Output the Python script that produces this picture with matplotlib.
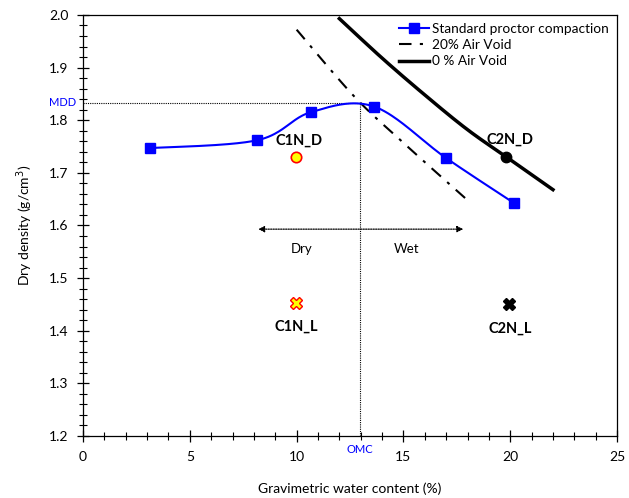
import numpy as np
import matplotlib.pyplot as plt
from matplotlib.ticker import MultipleLocator

plt.rcParams['font.family'] = ['Lato', 'DejaVu Sans']

# standard proctor compaction test
w_proctor = [3.15, 8.16, 10.65, 13.62, 17.0, 20.16]
rho_proctor = [1.747, 1.762, 1.815, 1.826, 1.728, 1.643]

# air void lines
w_av20 = [10.0, 12.7, 15.0, 18.0]
rho_av20 = [1.972, 1.845, 1.757, 1.648]
w_av0 = [12.0, 14.0, 16.0, 18.0, 20.0, 22.0]
rho_av0 = [1.993, 1.918, 1.848, 1.782, 1.725, 1.668]

# samples
c1n_d = (9.95, 1.731)
c2n_d = (19.82, 1.731)
c1n_l = (9.98, 1.452)
c2n_l = (19.95, 1.450)

omc = 12.97
mdd = 1.833


def smooth(xs, ys, n=40):
    # excel style smoothed line (catmull-rom bezier)
    p = np.column_stack([xs, ys]).astype(float)
    out = []
    for i in range(len(p) - 1):
        p0 = p[max(i - 1, 0)]
        p1 = p[i]
        p2 = p[i + 1]
        p3 = p[min(i + 2, len(p) - 1)]
        c1 = p1 + (p2 - p0) / 6
        c2 = p2 - (p3 - p1) / 6
        t = np.linspace(0, 1, n)[:, None]
        seg = ((1 - t) ** 3 * p1 + 3 * (1 - t) ** 2 * t * c1
               + 3 * (1 - t) * t ** 2 * c2 + t ** 3 * p2)
        out.append(seg)
    out = np.vstack(out)
    return out[:, 0], out[:, 1]


fig = plt.figure(figsize=(6.29, 4.98), dpi=100)
ax = fig.add_axes([0.132, 0.1245, 0.849, 0.8455])

sx, sy = smooth(w_proctor, rho_proctor)
ax.plot(sx, sy, color='#0000ff', lw=1.5, zorder=3)
ax.plot(w_proctor, rho_proctor, 's', color='#0000ff', ms=7, zorder=4)
ax.plot([], [], '-s', color='#0000ff', lw=1.5, ms=7, label='Standard proctor compaction')

ax.plot(*smooth(w_av20, rho_av20), color='black', lw=1.5, ls=(0, (6, 4, 1.5, 4)),
        label='20% Air Void')
ax.plot(*smooth(w_av0, rho_av0), color='black', lw=2.5, label='0 % Air Void')

# OMC / MDD guides
ax.plot([0, omc], [mdd, mdd], color='black', lw=0.8, ls=(0, (1, 1)))
ax.plot([omc, omc], [1.2, mdd], color='black', lw=0.8, ls=(0, (1, 1)))
ax.text(-0.3, mdd, 'MDD', color='#0000ff', fontsize=8, ha='right', va='center')
ax.text(omc, 1.2 - 0.016, 'OMC', color='#0000ff', fontsize=8, ha='center', va='top')

# samples
ax.plot(*c1n_d, 'o', ms=7.5, mfc='#ffff00', mec='red', mew=1.2, zorder=5)
ax.plot(*c2n_d, 'o', ms=7.5, color='black', zorder=5)
ax.plot(*c1n_l, 'X', ms=9, mfc='#ffff00', mec='red', mew=1.0, zorder=5)
ax.plot(*c2n_l, 'X', ms=9, color='black', zorder=5)

lab = dict(fontsize=10.5, fontweight='bold', ha='center', va='center')
ax.text(10.1, 1.762, 'C1N_D', **lab)
ax.text(20.0, 1.763, 'C2N_D', **lab)
ax.text(10.0, 1.407, 'C1N_L', **lab)
ax.text(20.0, 1.404, 'C2N_L', **lab)

# dry / wet side arrow
ax.annotate('', xy=(8.2, 1.593), xytext=(17.8, 1.593),
            arrowprops=dict(arrowstyle='<|-|>', color='black', lw=0.9, ls=(0, (1, 1)),
                            mutation_scale=9, shrinkA=0, shrinkB=0))
ax.text(10.25, 1.556, 'Dry', fontsize=9.5, ha='center', va='center')
ax.text(15.15, 1.556, 'Wet', fontsize=9.5, ha='center', va='center')

ax.set_xlim(0, 25)
ax.set_ylim(1.2, 2.0)
ax.xaxis.set_major_locator(MultipleLocator(5))
ax.xaxis.set_minor_locator(MultipleLocator(1))
ax.yaxis.set_major_locator(MultipleLocator(0.1))
ax.yaxis.set_minor_locator(MultipleLocator(0.02))
ax.yaxis.set_major_formatter(plt.FormatStrFormatter('%.1f'))
ax.tick_params(which='major', direction='inout', length=9, width=0.9, labelsize=10, pad=6)
ax.tick_params(which='minor', direction='inout', length=6, width=0.8)
for s in ax.spines.values():
    s.set_linewidth(0.9)

ax.set_xlabel('Gravimetric water content (%)', fontsize=10, labelpad=14)
ax.set_ylabel('Dry density (g/cm$^3$)', fontsize=10, labelpad=10)

ax.legend(loc='upper right', frameon=False, fontsize=9.8, handlelength=2.2,
          borderaxespad=0.2, labelspacing=0.3, handletextpad=0.25)

fig.savefig('out.png', dpi=100)
